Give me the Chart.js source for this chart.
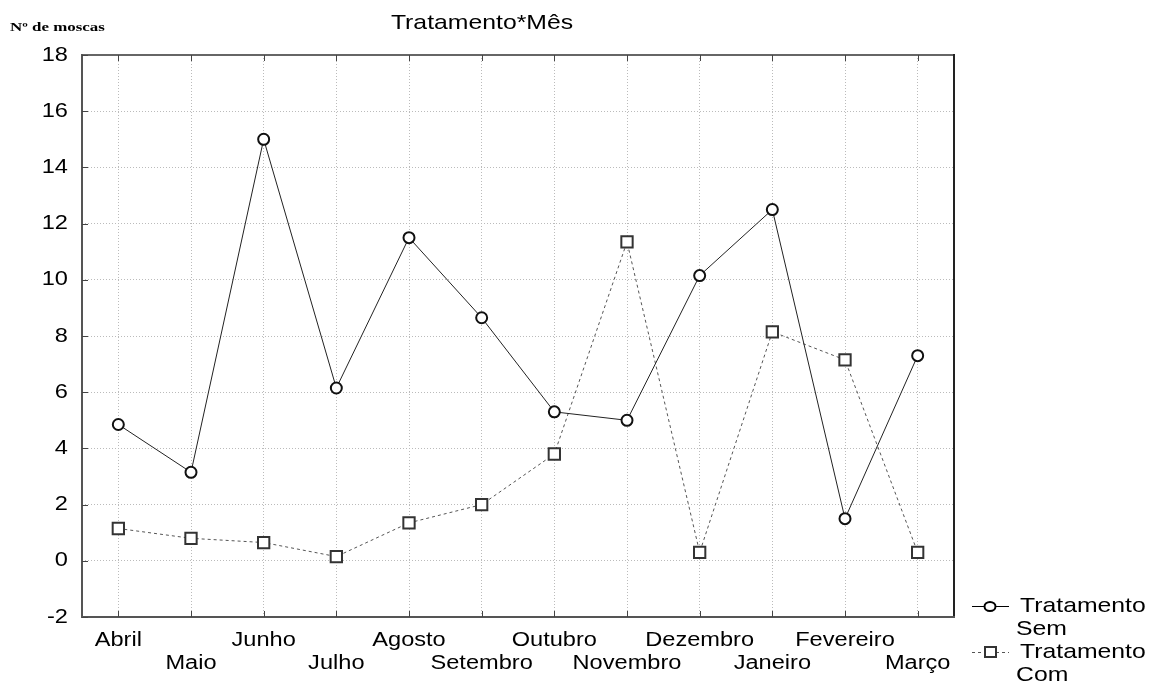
<!DOCTYPE html>
<html>
<head>
<meta charset="utf-8">
<script src="https://cdn.jsdelivr.net/npm/chart.js@4"></script>
<style>
  html, body { margin: 0; padding: 0; background: #fff; }
  #wrap { width: 1152px; height: 684px; position: relative; }
</style>
</head>
<body>
<div id="wrap"><canvas id="moscasChart"></canvas></div>
<script>
const meses = ["Abril", "Maio", "Junho", "Julho", "Agosto", "Setembro",
    "Outubro", "Novembro", "Dezembro", "Janeiro", "Fevereiro", "Março"];
const tratamentoSem = [4.85, 3.15, 15.0, 6.15, 11.5, 8.65, 5.3, 5.0, 10.15, 12.5, 1.5, 7.3];
const tratamentoCom = [1.15, 0.8, 0.65, 0.15, 1.35, 2.0, 3.8, 11.35, 0.3, 8.15, 7.15, 0.3];
const yTicks = [-2, 0, 2, 4, 6, 8, 10, 12, 14, 16, 18];

const FONT = "'Liberation Sans', Arial, sans-serif";
const STRETCH = 1.18; // the original text looks wide

// draw text squeezed/stretched horizontally
function wideText(c, txt, x, y, align, font, sx) {
    c.save();
    c.font = font;
    c.textBaseline = "middle";
    c.textAlign = "left";
    const w = c.measureText(txt).width * sx;
    let left = x;
    if (align === "center") left = x - w / 2;
    if (align === "right") left = x - w;
    c.translate(left, y);
    c.scale(sx, 1);
    c.fillText(txt, 0, 0);
    c.restore();
}

const extras = {
    id: "extras",
    afterDraw(chart) {
        const c = chart.ctx;
        const area = chart.chartArea;
        const x = chart.scales.x;
        const y = chart.scales.y;
        c.save();

        // frame
        c.strokeStyle = "#666";
        c.lineWidth = 2;
        c.beginPath();
        c.moveTo(area.left, area.top); c.lineTo(area.right, area.top);
        c.stroke();
        c.strokeStyle = "#222";
        c.beginPath();
        c.moveTo(area.right, area.top - 1); c.lineTo(area.right, area.bottom);
        c.stroke();
        c.strokeStyle = "#555";
        c.beginPath();
        c.moveTo(area.left, area.top - 1); c.lineTo(area.left, area.bottom);
        c.lineTo(area.right + 1, area.bottom);
        c.stroke();

        // short tick marks inside the frame
        c.strokeStyle = "#444";
        c.lineWidth = 1;
        c.beginPath();
        for (let i = 0; i < meses.length; i++) {
            const px = Math.round(x.getPixelForValue(i)) + 0.5;
            c.moveTo(px, area.top); c.lineTo(px, area.top + 6);
            c.moveTo(px, area.bottom); c.lineTo(px, area.bottom - 6);
        }
        yTicks.forEach(v => {
            const py = Math.round(y.getPixelForValue(v)) + 0.5;
            c.moveTo(area.left, py); c.lineTo(area.left + 6, py);
        });
        c.stroke();

        c.fillStyle = "#000";
        const tickFont = "20px " + FONT;

        // y tick labels
        yTicks.forEach(v => {
            wideText(c, String(v), area.left - 14, y.getPixelForValue(v), "right", tickFont, STRETCH);
        });

        // x tick labels, alternating rows
        meses.forEach((m, i) => {
            const row = i % 2 === 0 ? 640 : 663;
            wideText(c, m, x.getPixelForValue(i), row, "center", tickFont, STRETCH);
        });

        // title and axis label
        wideText(c, "Tratamento*Mês", 482, 23, "center", "21px " + FONT, STRETCH);
        wideText(c, "Nº de moscas", 10, 28, "left",
            "bold 13px 'Liberation Serif', 'Times New Roman', serif", 1.3);

        // legend
        const legFont = "21px " + FONT;
        wideText(c, "Tratamento", 1020, 606, "left", legFont, STRETCH);
        wideText(c, "Sem", 1016, 629, "left", legFont, STRETCH);
        wideText(c, "Tratamento", 1020, 652, "left", legFont, STRETCH);
        wideText(c, "Com", 1016, 675, "left", legFont, STRETCH);

        c.strokeStyle = "#000";
        c.lineWidth = 1;
        c.beginPath();
        c.moveTo(972, 606.5); c.lineTo(1009, 606.5);
        c.stroke();
        c.lineWidth = 2;
        c.fillStyle = "#fff";
        c.beginPath();
        c.ellipse(990, 606.5, 5.5, 4.5, 0, 0, Math.PI * 2);
        c.fill(); c.stroke();

        c.lineWidth = 1;
        c.strokeStyle = "#555";
        c.setLineDash([3, 3]);
        c.beginPath();
        c.moveTo(972, 652.5); c.lineTo(1009, 652.5);
        c.stroke();
        c.setLineDash([]);
        c.lineWidth = 2;
        c.strokeStyle = "#333";
        c.fillRect(985, 647, 11, 10);
        c.strokeRect(985, 647, 11, 10);

        c.restore();
    }
};

new Chart(document.getElementById("moscasChart"), {
    type: "line",
    data: {
        labels: meses,
        datasets: [{
            label: "Tratamento Sem",
            data: tratamentoSem,
            borderColor: "#222",
            borderWidth: 1,
            pointStyle: "circle",
            pointRadius: 5.5,
            pointBorderWidth: 2,
            pointBorderColor: "#111",
            pointBackgroundColor: "#fff",
            tension: 0
        }, {
            label: "Tratamento Com",
            data: tratamentoCom,
            borderColor: "#555",
            borderWidth: 1,
            borderDash: [3, 3],
            pointStyle: "rect",
            pointRadius: 8,
            pointBorderWidth: 2,
            pointBorderColor: "#333",
            pointBackgroundColor: "#fff",
            tension: 0
        }]
    },
    options: {
        responsive: true,
        maintainAspectRatio: false,
        animation: false,
        layout: { padding: { left: 0, top: 55, right: 198, bottom: 0 } },
        plugins: {
            legend: { display: false },
            title: { display: false },
            tooltip: { enabled: false }
        },
        scales: {
            x: {
                offset: true,
                grid: {
                    offset: false,
                    color: "#bbb",
                    drawTicks: false
                },
                border: { display: false, dash: [1, 2] },
                ticks: { display: false },
                afterFit: s => { s.height = 67; }
            },
            y: {
                min: -2,
                max: 18,
                afterBuildTicks: s => { s.ticks = yTicks.map(v => ({ value: v })); },
                grid: {
                    color: "#bbb",
                    drawTicks: false
                },
                border: { display: false, dash: [1, 2] },
                ticks: { display: false },
                afterFit: s => { s.width = 82; }
            }
        }
    },
    plugins: [extras]
});
</script>
</body>
</html>
